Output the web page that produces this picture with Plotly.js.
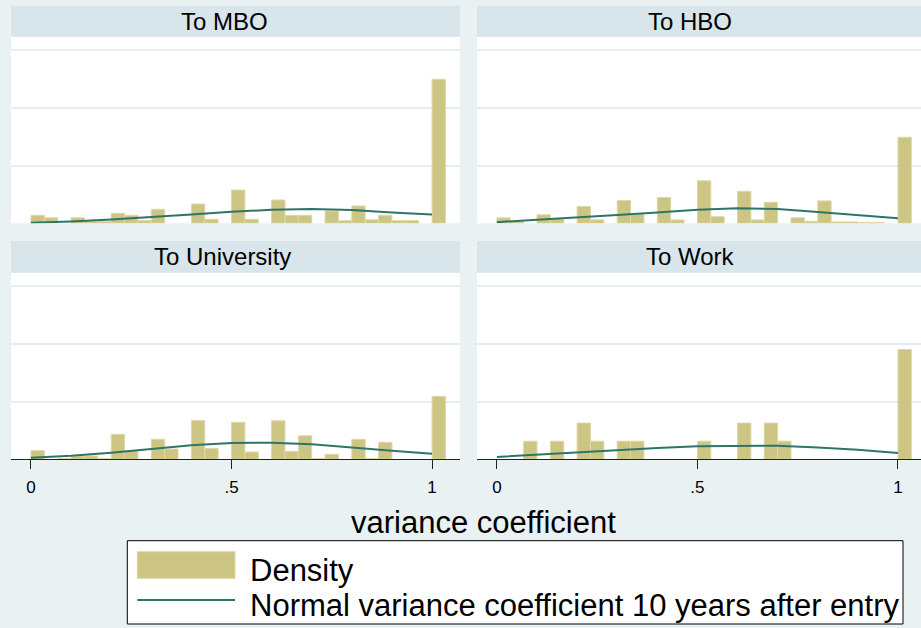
<!DOCTYPE html>
<html>
<head>
<meta charset="utf-8">
<script src="https://cdn.plot.ly/plotly-3.0.1.min.js"></script>
<style>html,body{margin:0;padding:0;background:#e9f1f3;}#chart{width:921px;height:628px;}</style>
</head>
<body>
<div id="chart"></div>
<script>
// ---- data (density per bin, bin width 1/30, 31 bins from 0) ----
const panelTitles = ["To MBO", "To HBO", "To University", "To Work"];
const binWidth = 1 / 30;
const densityMBO = [0.69,0.48,0,0.48,0.16,0.16,0.87,0.69,0.23,1.21,0,0,1.67,0.35,0,2.88,0.35,0,2.02,0.69,0.69,0,1.06,0.23,1.5,0.3,0.7,0.23,0.23,0,12.47];
const densityHBO = [0.47,0.15,0,0.74,0.38,0,1.46,0.3,0,1.98,0.8,0,2.24,0.29,0,3.68,0.57,0,2.77,0.29,1.82,0,0.48,0.17,1.94,0.12,0.12,0.08,0.08,0,7.45];
const densityUniv = [0.75,0,0.06,0.29,0.29,0.06,2.17,0.72,0,1.73,0.89,0,3.35,0.95,0,3.2,0.63,0,3.34,0.69,2.04,0.06,0.43,0,1.72,0.06,1.47,0,0,0,5.45];
const densityWork = [0,0,1.57,0,1.57,0,3.14,1.57,0,1.57,1.57,0,0,0,0,1.57,0,0,3.14,0,3.14,1.57,0,0,0,0,0,0,0,0,9.5];
const curveX = [0,0.1,0.2,0.3,0.4,0.5,0.6,0.7,0.8,0.9,1.0];
const normalMBO = [0.05,0.15,0.32,0.52,0.76,1.0,1.17,1.24,1.15,0.93,0.77];
const normalHBO = [0.1,0.29,0.5,0.72,0.93,1.18,1.3,1.24,0.97,0.7,0.44];
const normalUniv = [0.14,0.31,0.57,0.89,1.21,1.41,1.44,1.3,1.0,0.74,0.48];
const normalWork = [0.2,0.41,0.6,0.8,0.98,1.13,1.18,1.18,1.02,0.82,0.55];
const tickVals = [0, 0.5, 1];
const tickText = ["0", ".5", "1"];
const xTitle = "variance coefficient";
const legendLabels = ["Density", "Normal variance coefficient 10 years after entry"];

// ---- styling ----
const W = 921, H = 628;
const BG = "#e9f1f3", STRIP = "#d8e5eb", BAR = "#cdc584", BAR_EDGE = "#ded8a8", LINE = "#2e7569";
const FONT = "Liberation Sans, Arial, Helvetica, sans-serif";
const px = x => x / W, py = y => 1 - y / H;

const densities = [densityMBO, densityHBO, densityUniv, densityWork];
const normals = [normalMBO, normalHBO, normalUniv, normalWork];
const binCenters = densityMBO.map((_, i) => (i + 0.5) * binWidth);

const panels = [
  {x0: 11, x1: 460, top: 37, base: 223.3, strip: [5.7, 36.7], tx: 224, ty: 21, xr: [-0.0498, 1.0697]},
  {x0: 477, x1: 921, top: 37, base: 223.3, strip: [5.7, 36.7], tx: 690, ty: 21, xr: [-0.0496, 1.0574]},
  {x0: 11, x1: 460, top: 273, base: 459.3, strip: [241, 272.7], tx: 222, ty: 256.5, xr: [-0.0498, 1.0697]},
  {x0: 477, x1: 921, top: 273, base: 459.3, strip: [241, 272.7], tx: 690, ty: 256.5, xr: [-0.0496, 1.0574]}
];
const yTop = 16.13;

const traces = [];
const layout = {
  width: W, height: H, margin: {l: 0, r: 0, t: 0, b: 0},
  paper_bgcolor: BG, plot_bgcolor: "white",
  showlegend: false, bargap: 0, barmode: "overlay",
  font: {family: FONT, color: "black"},
  shapes: [], annotations: []
};

panels.forEach((p, i) => {
  const n = i === 0 ? "" : String(i + 1);
  const bottomRow = i >= 2;
  traces.push({
    type: "bar", x: binCenters, y: densities[i].map(v => v === 0 ? null : v),
    width: binWidth, xaxis: "x" + n, yaxis: "y" + n,
    marker: {color: BAR, line: {color: BAR_EDGE, width: 1}},
    hoverinfo: "skip", name: legendLabels[0]
  });
  traces.push({
    type: "scatter", mode: "lines", x: curveX, y: normals[i],
    xaxis: "x" + n, yaxis: "y" + n, line: {color: LINE, width: 2},
    hoverinfo: "skip", name: legendLabels[1]
  });
  layout["xaxis" + n] = {
    domain: [px(p.x0), px(p.x1)], range: p.xr, anchor: "y" + n,
    showgrid: false, zeroline: false, fixedrange: true,
    showticklabels: bottomRow, ticks: bottomRow ? "outside" : "",
    tickvals: tickVals, ticktext: tickText, ticklen: 9, tickwidth: 1, tickcolor: "#222",
    ticklabelstandoff: 3,
    showline: bottomRow, linecolor: "#222", linewidth: 1,
    tickfont: {size: 17, color: "black", family: FONT}
  };
  layout["yaxis" + n] = {
    domain: [py(p.base), py(p.top)], range: [0, yTop], anchor: "x" + n,
    tickvals: [5, 10, 15], showticklabels: false, ticks: "",
    showgrid: true, gridcolor: "#e4edf1", gridwidth: 2,
    zeroline: false, showline: false, fixedrange: true
  };
  layout.shapes.push({
    type: "rect", xref: "paper", yref: "paper", layer: "below",
    x0: px(p.x0), x1: px(p.x1), y0: py(p.strip[1]), y1: py(p.strip[0]),
    fillcolor: STRIP, line: {width: 0}
  });
  layout.annotations.push({
    xref: "paper", yref: "paper", x: px(p.tx), y: py(p.ty),
    xanchor: "center", yanchor: "middle", showarrow: false,
    text: panelTitles[i], font: {size: 24, color: "black", family: FONT}
  });
});

// axis title
layout.annotations.push({
  xref: "paper", yref: "paper", x: px(483.5), y: py(522.6),
  xanchor: "center", yanchor: "middle", showarrow: false,
  text: xTitle, font: {size: 31, color: "black", family: FONT}
});

// legend box (drawn to match the reference's wide keys)
layout.shapes.push({type: "rect", xref: "paper", yref: "paper",
  x0: px(127.3), x1: px(903), y0: py(624), y1: py(540.7),
  fillcolor: "white", line: {color: "black", width: 1}});
layout.shapes.push({type: "rect", xref: "paper", yref: "paper",
  x0: px(137.3), x1: px(235), y0: py(578.3), y1: py(551.7),
  fillcolor: BAR, line: {color: BAR_EDGE, width: 1}});
layout.shapes.push({type: "line", xref: "paper", yref: "paper",
  x0: px(137.3), x1: px(235), y0: py(600), y1: py(600),
  line: {color: LINE, width: 2}});
layout.annotations.push({xref: "paper", yref: "paper", x: px(248), y: py(570.3),
  xanchor: "left", yanchor: "middle", showarrow: false,
  text: legendLabels[0], font: {size: 31, color: "black", family: FONT}});
layout.annotations.push({xref: "paper", yref: "paper", x: px(248), y: py(605.3),
  xanchor: "left", yanchor: "middle", showarrow: false,
  text: legendLabels[1], font: {size: 31, color: "black", family: FONT}});

Plotly.newPlot("chart", traces, layout, {staticPlot: true, displayModeBar: false});
</script>
</body>
</html>
